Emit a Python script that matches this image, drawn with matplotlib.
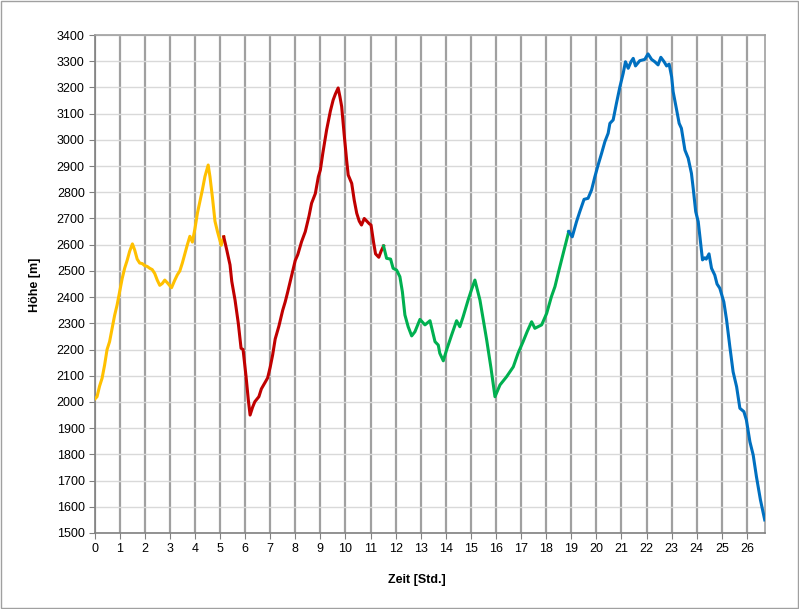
import matplotlib.pyplot as plt
from matplotlib.patches import Rectangle

# elevation profile, split into four stages (time in hours, height in m)
t_yellow = [0.0, 0.1, 0.2, 0.3, 0.4, 0.5, 0.6, 0.7, 0.8, 0.9, 1.0, 1.1, 1.2, 1.3, 1.4,
            1.51, 1.6, 1.7, 1.8, 1.9, 2.0, 2.1, 2.2, 2.3, 2.4, 2.5, 2.6, 2.7, 2.8, 2.9,
            3.07, 3.2, 3.3, 3.4, 3.5, 3.6, 3.7, 3.8, 3.9, 4.0, 4.1, 4.2, 4.3, 4.4, 4.53,
            4.6, 4.7, 4.8, 4.9, 5.05, 5.15]
h_yellow = [2010, 2020, 2060, 2090, 2140, 2200, 2230, 2280, 2330, 2370, 2420, 2470, 2510, 2540, 2575,
            2603, 2580, 2545, 2530, 2528, 2520, 2517, 2510, 2505, 2490, 2465, 2445, 2452, 2465, 2455,
            2436, 2465, 2485, 2500, 2530, 2565, 2600, 2632, 2610, 2660, 2720, 2765, 2810, 2860, 2904,
            2860, 2780, 2690, 2650, 2598, 2630]

t_red = [5.15, 5.27, 5.4, 5.47, 5.6, 5.73, 5.84, 5.92, 6.04, 6.13, 6.2, 6.3, 6.39, 6.55, 6.65,
         6.8, 6.9, 7.0, 7.1, 7.2, 7.35, 7.5, 7.6, 7.7, 7.85, 8.0, 8.1, 8.25, 8.4, 8.55,
         8.65, 8.8, 8.92, 9.0, 9.1, 9.25, 9.4, 9.51, 9.6, 9.71, 9.78, 9.85, 9.95, 10.05, 10.11,
         10.25, 10.35, 10.45, 10.55, 10.64, 10.75, 10.85, 10.95, 11.02, 11.12, 11.2, 11.33, 11.42, 11.52]
h_red = [2630, 2580, 2523, 2460, 2389, 2300, 2205, 2200, 2096, 2007, 1950, 1980, 2001, 2020, 2050,
         2075, 2092, 2132, 2180, 2240, 2290, 2350, 2382, 2420, 2480, 2540, 2562, 2611, 2650, 2710,
         2758, 2795, 2859, 2885, 2950, 3038, 3110, 3152, 3175, 3198, 3165, 3127, 3020, 2920, 2866,
         2834, 2770, 2720, 2690, 2675, 2700, 2690, 2680, 2675, 2610, 2565, 2552, 2575, 2595]

t_green = [11.52, 11.64, 11.8, 11.9, 12.04, 12.17, 12.27, 12.37, 12.5, 12.64, 12.77, 12.97, 13.17, 13.37, 13.57,
           13.7, 13.76, 13.9, 14.03, 14.23, 14.43, 14.56, 14.69, 14.89, 15.03, 15.16, 15.36, 15.5, 15.63, 15.8,
           15.96, 16.16, 16.42, 16.69, 16.88, 17.08, 17.25, 17.42, 17.55, 17.82, 18.02, 18.21, 18.35, 18.48, 18.68,
           18.9]
h_green = [2595, 2548, 2545, 2510, 2503, 2478, 2420, 2332, 2287, 2252, 2268, 2315, 2294, 2310, 2230,
           2217, 2186, 2157, 2198, 2255, 2310, 2287, 2325, 2389, 2430, 2465, 2389, 2310, 2236, 2130,
           2020, 2065, 2096, 2134, 2186, 2230, 2270, 2306, 2281, 2294, 2338, 2402, 2440, 2491, 2567,
           2650]

t_blue = [18.9, 19.04, 19.21, 19.34, 19.51, 19.67, 19.81, 19.94, 20.07, 20.21, 20.34, 20.47, 20.54, 20.67, 20.8,
          20.94, 21.07, 21.16, 21.27, 21.38, 21.47, 21.56, 21.73, 21.93, 22.06, 22.2, 22.33, 22.46, 22.57, 22.7,
          22.8, 22.9, 23.0, 23.06, 23.2, 23.3, 23.39, 23.53, 23.66, 23.79, 23.86, 23.96, 24.06, 24.12, 24.23,
          24.32, 24.38, 24.49, 24.59, 24.72, 24.81, 24.92, 25.08, 25.19, 25.32, 25.45, 25.59, 25.72, 25.88, 25.98,
          26.12, 26.25, 26.38, 26.54, 26.71]
h_blue = [2650, 2630, 2688, 2726, 2773, 2777, 2809, 2859, 2904, 2949, 2993, 3025, 3063, 3076, 3139,
          3203, 3254, 3298, 3273, 3298, 3311, 3282, 3302, 3307, 3328, 3307, 3298, 3286, 3315, 3298,
          3282, 3289, 3241, 3184, 3114, 3063, 3044, 2961, 2930, 2872, 2815, 2726, 2688, 2637, 2542,
          2550, 2545, 2565, 2510, 2484, 2450, 2434, 2382, 2313, 2211, 2115, 2058, 1976, 1963, 1931,
          1848, 1798, 1715, 1626, 1550]

x_ticks = list(range(0, 27))
y_ticks = list(range(1500, 3401, 100))

plt.rcParams['font.family'] = ['Liberation Sans', 'DejaVu Sans']

fig = plt.figure(figsize=(7.99, 6.09), dpi=100)
ax = fig.add_axes([0.1183, 0.1248, 0.8391, 0.8177])

ax.plot(t_yellow, h_yellow, color='#FFC000', lw=2.2, zorder=3)
ax.plot(t_red, h_red, color='#C00000', lw=2.2, zorder=3)
ax.plot(t_green, h_green, color='#00B050', lw=2.2, zorder=3)
ax.plot(t_blue, h_blue, color='#0070C0', lw=2.2, zorder=3)

ax.set_xlim(0, 26.72)
ax.set_ylim(1500, 3400)
ax.set_xticks(x_ticks)
ax.set_yticks(y_ticks)
ax.tick_params(labelsize=9, length=4, color='#808080', pad=3)

ax.grid(axis='y', color='#d9d9d9', lw=1.0)
ax.grid(axis='x', color='#a0a0a0', lw=1.6)
ax.set_axisbelow(True)
for side in ['left', 'bottom']:
    ax.spines[side].set_color('#808080')
    ax.spines[side].set_linewidth(1.2)
for side in ['top', 'right']:
    ax.spines[side].set_color('#a0a0a0')
    ax.spines[side].set_linewidth(1.2)

fig.text(0.522, 0.047, 'Zeit [Std.]', ha='center', va='center', fontsize=9, fontweight='bold')
fig.text(0.044, 0.533, 'Höhe [m]', ha='center', va='center', rotation=90, fontsize=9, fontweight='bold')

# thin grey frame around the whole chart
fig.patches.append(Rectangle((0.001, 0.001), 0.998, 0.998, transform=fig.transFigure,
                             fill=False, edgecolor='#a0a0a0', lw=1.0))

fig.savefig('out.png', dpi=100)
